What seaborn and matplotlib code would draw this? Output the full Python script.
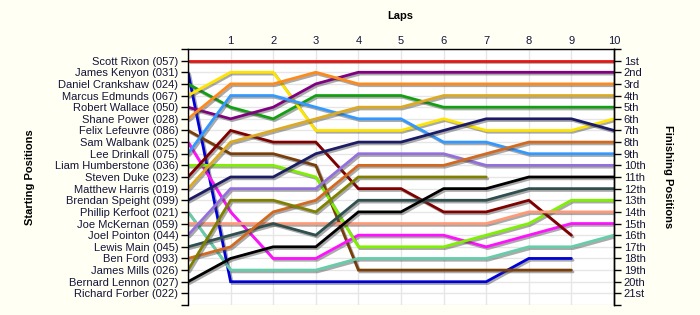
import matplotlib
matplotlib.use('Agg')
import matplotlib.pyplot as plt
import matplotlib.patheffects as pe
import seaborn as sns
import pandas as pd
import numpy as np

# ---- data ----
laps = list(range(11))
drivers = [
    "Scott Rixon (057)", "James Kenyon (031)", "Daniel Crankshaw (024)",
    "Marcus Edmunds (067)", "Robert Wallace (050)", "Shane Power (028)",
    "Felix Lefeuvre (086)", "Sam Walbank (025)", "Lee Drinkall (075)",
    "Liam Humberstone (036)", "Steven Duke (023)", "Matthew Harris (019)",
    "Brendan Speight (099)", "Phillip Kerfoot (021)", "Joe McKernan (059)",
    "Joel Pointon (044)", "Lewis Main (045)", "Ben Ford (093)",
    "James Mills (026)", "Bernard Lennon (027)", "Richard Forber (022)",
]
N = None
pos_rixon = [1, 1, 1, 1, 1, 1, 1, 1, 1, 1, 1]
pos_kenyon = [2, 20, 20, 20, 20, 20, 20, 20, 18, 18, N]
pos_crankshaw = [3, 5, 6, 4, 4, 4, 5, 5, 5, 5, 5]
pos_edmunds = [4, 2, 2, 7, 7, 7, 6, 7, 7, 7, 6]
pos_wallace = [5, 6, 5, 3, 2, 2, 2, 2, 2, 2, 2]
pos_power = [6, 3, 3, 2, 3, 3, 3, 3, 3, 3, 3]
pos_lefeuvre = [7, 9, 9, 10, 19, 19, 19, 19, 19, 19, N]
pos_walbank = [8, 14, 18, 18, 16, 16, 16, 17, 16, 15, 15]
pos_drinkall = [9, 4, 4, 5, 6, 6, 8, 8, 9, 9, 9]
pos_humberstone = [10, 10, 10, 11, 17, 17, 17, 16, 15, 13, 13]
pos_duke = [11, 7, 8, 8, 12, 12, 14, 14, 13, 16, N]
pos_harris = [12, 8, 7, 6, 5, 5, 4, 4, 4, 4, 4]
pos_speight = [13, 11, 11, 9, 8, 8, 7, 6, 6, 6, 7]
pos_kerfoot = [14, 19, 19, 19, 18, 18, 18, 18, 17, 17, 16]
pos_mckernan = [15, 15, 15, 15, 15, 15, 15, 15, 14, 14, 14]
pos_pointon = [16, 12, 12, 12, 9, 9, 9, 10, 10, 10, 10]
pos_main = [17, 16, 15, 16, 13, 13, 13, 13, 12, 12, 12]
pos_ford = [18, 17, 14, 13, 10, 10, 10, 9, 8, 8, 8]
pos_mills = [19, 13, 13, 14, 11, 11, 11, 11, N, N, N]
pos_lennon = [20, 18, 17, 17, 14, 14, 12, 12, 11, 11, 11]
pos_forber = [N] * 11

all_positions = [pos_rixon, pos_kenyon, pos_crankshaw, pos_edmunds, pos_wallace,
                 pos_power, pos_lefeuvre, pos_walbank, pos_drinkall, pos_humberstone,
                 pos_duke, pos_harris, pos_speight, pos_kerfoot, pos_mckernan,
                 pos_pointon, pos_main, pos_ford, pos_mills, pos_lennon, pos_forber]

line_colors = ["#E81414", "#0000D8", "#12A012", "#FFE400", "#800080", "#FF8A1C",
               "#7A3E08", "#FF10FF", "#3399FF", "#7FF000", "#800000", "#DCAA22",
               "#1C1C66", "#66CDAA", "#FF9A78", "#9370DB", "#2F4F4F", "#D2691E",
               "#808000", "#000000", "#999999"]

finish_labels = ["1st", "2nd", "3rd", "4th", "5th", "6th", "7th", "8th", "9th", "10th",
                 "11th", "12th", "13th", "14th", "15th", "16th", "17th", "18th", "19th",
                 "20th", "21st"]
lap_labels = ["", "1", "2", "3", "4", "5", "6", "7", "8", "9", "10"]

rows = []
for name, plist in zip(drivers, all_positions):
    for lap, p in zip(laps, plist):
        if p is not None:
            rows.append({"Driver": name, "Lap": lap, "Position": p})
df = pd.DataFrame(rows)
palette = dict(zip(drivers, line_colors))
hue_order = [d for d in drivers if d in set(df["Driver"])]

# ---- style ----
sns.set_theme(style="white")
plt.rcParams['font.family'] = ['Liberation Sans', 'DejaVu Sans']
text_color = "#14143a"

fig = plt.figure(figsize=(7, 3.15), dpi=100, facecolor="#FFFFF4")
ax = fig.add_axes([188 / 700, 10 / 315, 426 / 700, 256 / 315])
ax.set_facecolor("white")

sns.lineplot(data=df, x="Lap", y="Position", hue="Driver", hue_order=hue_order,
             palette=palette, estimator=None, legend=False, sort=False,
             linewidth=2.0, ax=ax)

for ln in ax.lines:
    ln.set_path_effects([pe.SimpleLineShadow(offset=(1.2, -1.3), shadow_color="#444444", alpha=0.45),
                         pe.Normal()])
    ln.set_solid_joinstyle("miter")

ax.set_xlim(0, 10)
ax.set_ylim(22, 0)
ax.set_xticks(laps)
ax.set_xticklabels(lap_labels)
ax.xaxis.tick_top()
ax.tick_params(axis="x", length=0, pad=2, labelsize=8, labelcolor=text_color)
ax.set_yticks(range(0, 23))
ax.set_yticklabels([""] + drivers + [""])
ax.tick_params(axis="y", left=True, length=5, width=1, color="black", direction="out",
               pad=2, labelsize=8, labelcolor=text_color)
ax.grid(True, color="#E6E6E6", linewidth=1)
ax.set_axisbelow(True)
ax.set_xlabel("")
ax.set_ylabel("")
for side in ["left", "top", "right"]:
    ax.spines[side].set_visible(True)
    ax.spines[side].set_color("black")
    ax.spines[side].set_linewidth(1)
ax.spines["bottom"].set_visible(False)

ax2 = ax.twinx()
ax2.set_ylim(22, 0)
ax2.set_yticks(range(0, 23))
ax2.set_yticklabels([""] + finish_labels + [""])
ax2.tick_params(axis="y", right=True, length=5, width=1, color="black", direction="out",
                pad=2, labelsize=8, labelcolor=text_color)
ax2.grid(False)
for side in ["left", "top", "bottom"]:
    ax2.spines[side].set_visible(False)
ax2.spines["right"].set_color("black")
ax2.spines["right"].set_linewidth(1)

ax.text(0.498, 1.13, "Laps", transform=ax.transAxes, ha="center", va="center",
        fontsize=8, fontweight="bold", color="black")
ax.text(-0.372, 0.5, "Starting Positions", transform=ax.transAxes, ha="center",
        va="center", rotation=90, fontsize=8, fontweight="bold", color="black")
ax.text(1.127, 0.5, "Finishing Positions", transform=ax.transAxes, ha="center",
        va="center", rotation=270, fontsize=8, fontweight="bold", color="black")

fig.savefig("out.png", dpi=100, facecolor=fig.get_facecolor())
